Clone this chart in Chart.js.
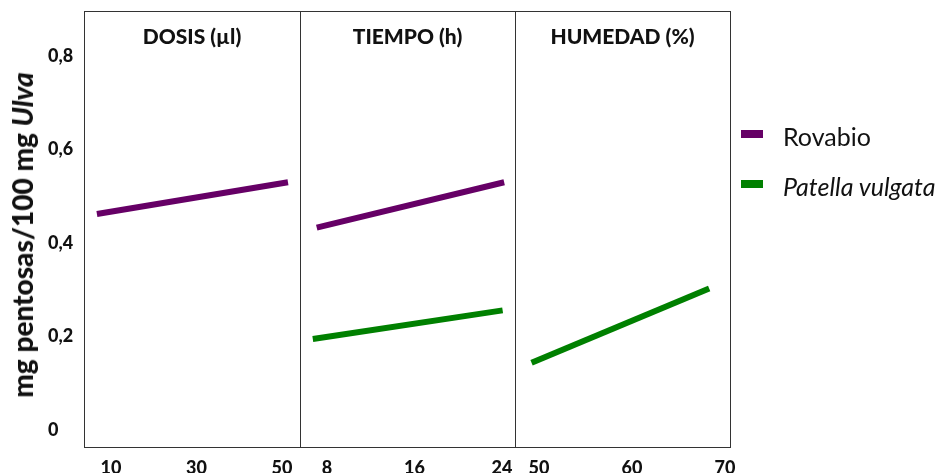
<!DOCTYPE html>
<html>
<head>
<meta charset="utf-8">
<script src="https://cdn.jsdelivr.net/npm/chart.js@4.4.0/dist/chart.umd.min.js"></script>
<style>
  body { margin: 0; background: #fff; }
  #wrap { position: relative; width: 947px; height: 473px; overflow: hidden; font-family: Lato, 'Open Sans', sans-serif; color: #111; }
  canvas { position: absolute; top: 0; }
  #ytitle { position: absolute; left: 22px; top: 235px; transform: translate(-50%, -50%) rotate(-90deg); white-space: nowrap; font-weight: 900; font-size: 28px; }
  .leg { position: absolute; left: 741px; font-size: 25px; white-space: nowrap; }
  .leg span.box { position: absolute; left: 0; width: 22px; height: 8px; }
  .leg span.txt { position: absolute; left: 42px; top: -9px; }
</style>
</head>
<body>
<div id="wrap">
  <canvas id="c1" width="320" height="473" style="left:0px"></canvas>
  <canvas id="c2" width="255" height="473" style="left:280px"></canvas>
  <canvas id="c3" width="255" height="473" style="left:495px"></canvas>
  <div id="ytitle">mg pentosas/100 mg <i>Ulva</i></div>
  <div class="leg" style="top:130px"><span class="box" style="background:#660066"></span><span class="txt">Rovabio</span></div>
  <div class="leg" style="top:180px"><span class="box" style="background:#008000"></span><span class="txt"><i>Patella vulgata</i></span></div>
</div>
<script>
  // y axis shared by all panels
  const yTicks = [0, 0.2, 0.4, 0.6, 0.8];
  const yMin = -0.036;
  const yMax = 0.896;

  // panel 1: dosis
  const dosisTitle = 'DOSIS (µl)';
  const dosisTicks = [10, 30, 50];
  const dosisRovabioX = [6.7, 51.4];
  const dosisRovabioY = [0.462, 0.530];

  // panel 2: tiempo
  const tiempoTitle = 'TIEMPO (h)';
  const tiempoTicks = [8, 16, 24];
  const tiempoRovabioX = [7.06, 24.2];
  const tiempoRovabioY = [0.433, 0.530];
  const tiempoPatellaX = [6.7, 24.06];
  const tiempoPatellaY = [0.195, 0.256];

  // panel 3: humedad
  const humedadTitle = 'HUMEDAD (%)';
  const humedadTicks = [50, 60, 70];
  const humedadPatellaX = [49.2, 68.3];
  const humedadPatellaY = [0.144, 0.303];

  const PURPLE = '#660066';
  const GREEN = '#008000';
  const FONT = "Lato, 'Open Sans', sans-serif";

  function pts(xs, ys) {
    return xs.map((x, i) => ({ x: x, y: ys[i] }));
  }

  function lineSet(data, color) {
    return {
      data: data,
      borderColor: color,
      backgroundColor: color,
      borderWidth: 6,
      borderCapStyle: 'butt',
      pointRadius: 0,
      tension: 0
    };
  }

  // draws the panel frame and the title inside the plot area
  const panelPlugin = {
    id: 'panel',
    afterDraw(chart, args, opts) {
      const { ctx, chartArea: a } = chart;
      ctx.save();
      ctx.strokeStyle = '#333';
      ctx.lineWidth = 1;
      ctx.strokeRect(a.left + 0.5, a.top + 0.5, a.right - a.left, a.bottom - a.top);
      ctx.fillStyle = '#111';
      ctx.font = '900 21px ' + FONT;
      ctx.textAlign = 'center';
      ctx.textBaseline = 'middle';
      ctx.fillText(opts.title, (a.left + a.right) / 2, a.top + 26);
      ctx.restore();
    }
  };

  function makePanel(id, title, datasets, xTicks, xMin, xMax, showY, padLeft) {
    return new Chart(document.getElementById(id), {
      type: 'line',
      data: { datasets: datasets },
      plugins: [panelPlugin],
      options: {
        responsive: false,
        animation: false,
        layout: { padding: { left: padLeft, right: 20, top: 11, bottom: 0 } },
        plugins: {
          legend: { display: false },
          tooltip: { enabled: false },
          panel: { title: title }
        },
        scales: {
          x: {
            type: 'linear',
            min: xMin,
            max: xMax,
            afterBuildTicks: s => { s.ticks = xTicks.map(v => ({ value: v })); },
            grid: { display: false, drawTicks: false },
            border: { display: false },
            ticks: { color: '#111', padding: 10, font: { family: FONT, size: 18, weight: '900' } },
            afterFit: s => { s.height = 26; }
          },
          y: {
            display: showY,
            min: yMin,
            max: yMax,
            afterBuildTicks: s => { s.ticks = yTicks.map(v => ({ value: v })); },
            grid: { display: false, drawTicks: false },
            border: { display: false },
            ticks: {
              color: '#111',
              crossAlign: 'far',
              font: { family: FONT, size: 18, weight: '900' },
              callback: v => v === 0 ? '0' : v.toFixed(1).replace('.', ',')
            },
            afterFit: s => {
              s.width = showY ? 36 : 0;
              s.paddingTop = 0;
              s.paddingBottom = 0;
            }
          }
        }
      }
    });
  }

  makePanel('c1', dosisTitle, [
    lineSet(pts(dosisRovabioX, dosisRovabioY), PURPLE)
  ], dosisTicks, 3.68, 54.21, true, 48);

  makePanel('c2', tiempoTitle, [
    lineSet(pts(tiempoRovabioX, tiempoRovabioY), PURPLE),
    lineSet(pts(tiempoPatellaX, tiempoPatellaY), GREEN)
  ], tiempoTicks, 5.53, 25.19, false, 20);

  makePanel('c3', humedadTitle, [
    lineSet(pts(humedadPatellaX, humedadPatellaY), GREEN)
  ], humedadTicks, 47.42, 70.54, false, 20);
</script>
</body>
</html>
